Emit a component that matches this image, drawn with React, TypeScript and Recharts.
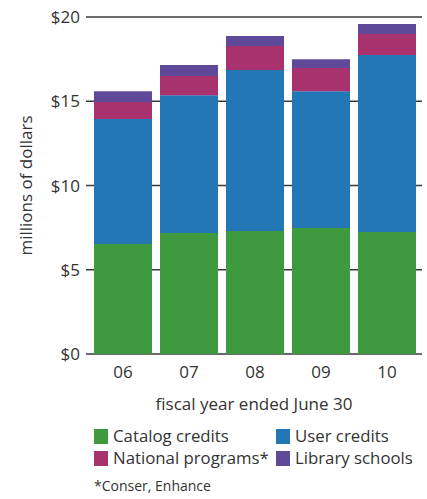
import React from 'react'
import { Bar, BarChart, CartesianGrid, Label, Legend, XAxis, YAxis } from 'recharts'

const years = ['06', '07', '08', '09', '10']
const catalogCredits = [6.53, 7.18, 7.3, 7.48, 7.24]
const userCredits = [7.42, 8.17, 9.55, 8.11, 10.5]
const nationalPrograms = [1.01, 1.15, 1.43, 1.38, 1.25]
const librarySchools = [0.64, 0.65, 0.59, 0.53, 0.59]
const yTicks = [0, 5, 10, 15, 20]

const series = [
  { key: 'catalog', name: 'Catalog credits', color: '#3f9a3f', values: catalogCredits },
  { key: 'user', name: 'User credits', color: '#2277b4', values: userCredits },
  { key: 'national', name: 'National programs*', color: '#a8326e', values: nationalPrograms },
  { key: 'library', name: 'Library schools', color: '#5e4a98', values: librarySchools }
]

const data = years.map((year, i) => {
  const row: Record<string, string | number> = { year }
  series.forEach((s) => {
    row[s.key] = s.values[i]
  })
  return row
})

const font = '"Open Sans", sans-serif'
const textColor = '#333'

function LegendBox() {
  return (
    <div style={{ fontFamily: font, color: textColor }}>
      <div
        style={{
          display: 'grid',
          gridTemplateColumns: '182px 150px',
          rowGap: 4
        }}
      >
        {series.map((s) => (
          <div key={s.key} style={{ display: 'flex', alignItems: 'center', fontSize: 16.8, lineHeight: '18px', whiteSpace: 'nowrap' }}>
            <span
              style={{
                display: 'inline-block',
                width: 14,
                height: 15,
                background: s.color,
                marginRight: 5,
                flexShrink: 0
              }}
            />
            {s.name}
          </div>
        ))}
      </div>
      <div style={{ fontSize: 14, marginTop: 11, lineHeight: '16px' }}>*Conser, Enhance</div>
    </div>
  )
}

export default function App() {
  return (
    <div style={{ position: 'absolute', left: 0, top: 0, width: 427, height: 499, background: '#fff' }}>
      <BarChart
        width={427}
        height={499}
        data={data}
        margin={{ top: 17, right: 5, left: 0, bottom: 13 }}
        barSize={58}
      >
        <CartesianGrid vertical={false} stroke="#3a3a3a" strokeWidth={1.5} />
        <XAxis
          dataKey="year"
          height={60}
          padding={{ left: 4, right: 2 }}
          axisLine={false}
          tickLine={false}
          tickMargin={6}
          tick={{ fill: textColor, fontSize: 17, fontFamily: font }}
        >
          <Label
            value="fiscal year ended June 30"
            position="insideBottom"
            offset={4}
            style={{ fill: textColor, fontSize: 17, fontFamily: font }}
          />
        </XAxis>
        <YAxis
          width={86}
          domain={[0, 20]}
          ticks={yTicks}
          axisLine={false}
          tickLine={false}
          tickSize={0}
          tickMargin={6}
          tickFormatter={(v: number) => '$' + v}
          tick={{ fill: textColor, fontSize: 17, fontFamily: font }}
        >
          <Label
            value="millions of dollars"
            angle={-90}
            position="center"
            dx={-17}
            style={{ fill: textColor, fontSize: 17, fontFamily: font, textAnchor: 'middle' }}
          />
        </YAxis>
        <Legend
          content={() => <LegendBox />}
          wrapperStyle={{ position: 'absolute', left: 94, top: 427, width: 330, height: 72 }}
        />
        {series.map((s) => (
          <Bar
            key={s.key}
            dataKey={s.key}
            name={s.name}
            stackId="a"
            fill={s.color}
            isAnimationActive={false}
          />
        ))}
      </BarChart>
    </div>
  )
}
